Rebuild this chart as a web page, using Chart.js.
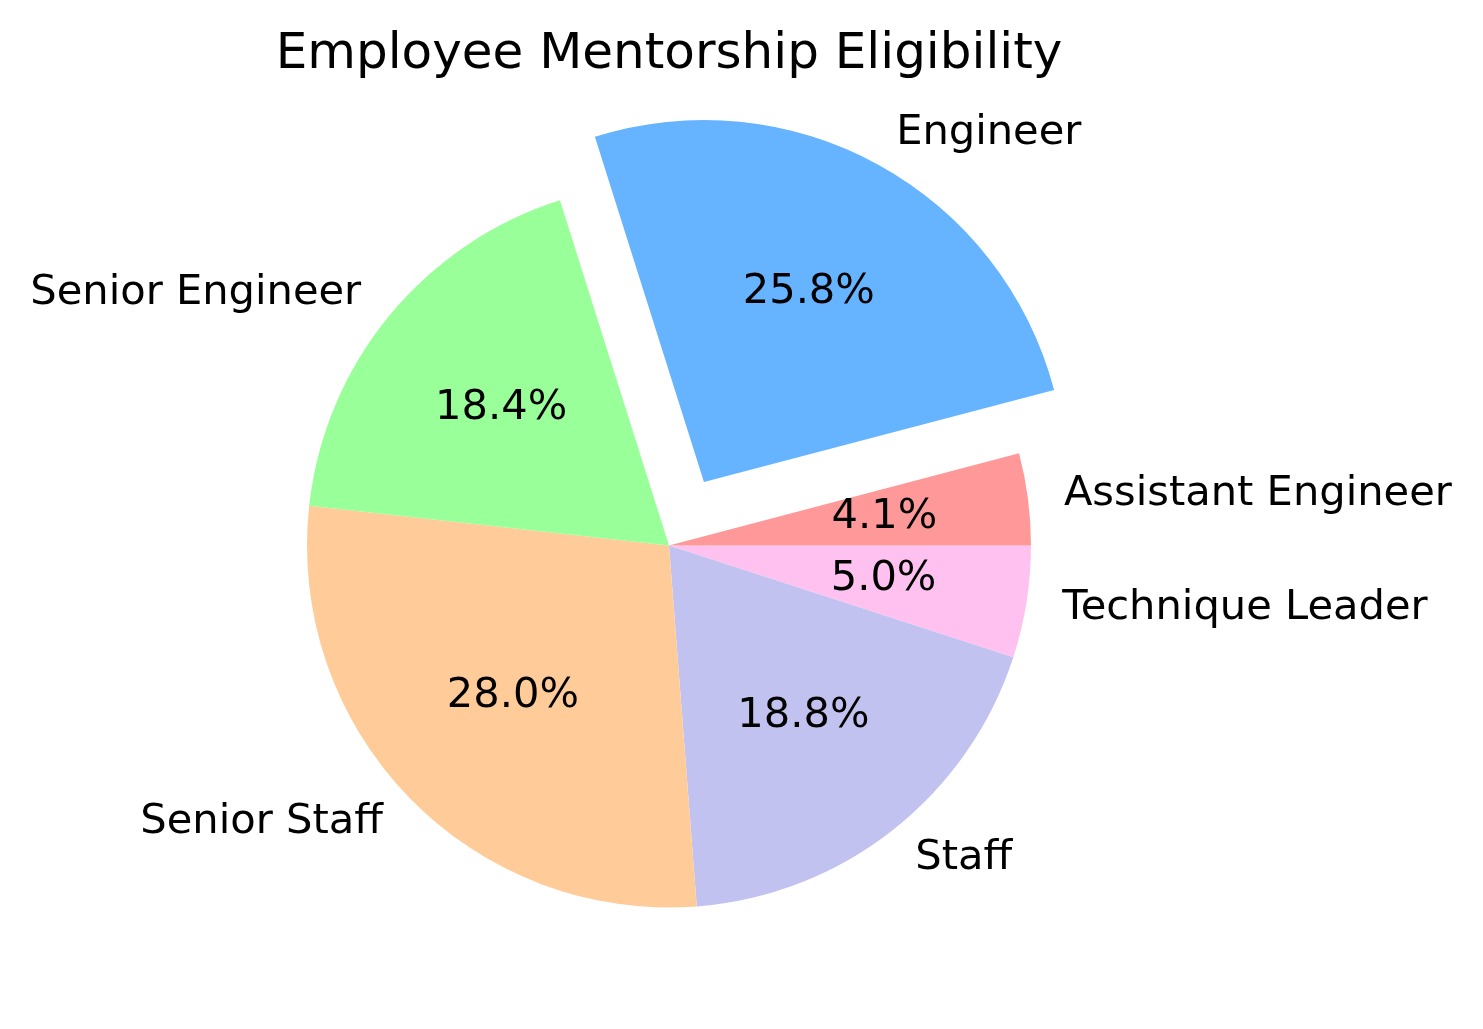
<!DOCTYPE html>
<html>
<head>
<meta charset="utf-8">
<title>Employee Mentorship Eligibility</title>
<script src="https://cdn.jsdelivr.net/npm/chart.js@4/dist/chart.umd.min.js"></script>
<style>
  html, body { margin: 0; padding: 0; background: #fff; }
  canvas { display: block; }
</style>
</head>
<body>
<canvas id="pieChart" width="1483" height="1029"></canvas>
<script>
// data, in matplotlib order (counter-clockwise from 3 o'clock)
const labels = ["Assistant Engineer", "Engineer", "Senior Engineer", "Senior Staff", "Staff", "Technique Leader"];
const values = [4.1, 25.8, 18.4, 28.0, 18.8, 5.0];
const colors = ["#ff9999", "#66b3ff", "#99ff99", "#ffcc99", "#c2c2f0", "#ffc2f0"];
const explode = [0, 0.2, 0, 0, 0, 0];

const RADIUS = 362;
const FONT = "DejaVu Sans, Verdana, sans-serif";

// chart.js goes clockwise, so feed it reversed and start at 3 o'clock
const order = labels.map((_, i) => i).reverse();
const total = values.reduce((a, b) => a + b, 0);

const labelPlugin = {
  id: "pieLabels",
  afterDraw(chart) {
    const ctx = chart.ctx;
    const meta = chart.getDatasetMeta(0);
    ctx.save();
    ctx.fillStyle = "#000";

    // title
    ctx.font = `50px ${FONT}`;
    ctx.textAlign = "center";
    ctx.textBaseline = "alphabetic";
    ctx.fillText("Employee Mentorship Eligibility", 669, 68);

    ctx.font = `41.6px ${FONT}`;
    ctx.textBaseline = "middle";
    meta.data.forEach((arc, j) => {
      const i = order[j];
      const mid = (arc.startAngle + arc.endAngle) / 2;
      const shift = explode[i] * arc.outerRadius;
      const cx = arc.x + Math.cos(mid) * shift;
      const cy = arc.y + Math.sin(mid) * shift;

      const lx = cx + Math.cos(mid) * arc.outerRadius * 1.1;
      const ly = cy + Math.sin(mid) * arc.outerRadius * 1.1;
      ctx.textAlign = Math.cos(mid) > 0 ? "left" : "right";
      ctx.fillText(labels[i], lx, ly);

      const px = cx + Math.cos(mid) * arc.outerRadius * 0.6;
      const py = cy + Math.sin(mid) * arc.outerRadius * 0.6;
      ctx.textAlign = "center";
      ctx.fillText((values[i] / total * 100).toFixed(1) + "%", px, py);
    });
    ctx.restore();
  }
};

new Chart(document.getElementById("pieChart"), {
  type: "pie",
  data: {
    labels: order.map(i => labels[i]),
    datasets: [{
      data: order.map(i => values[i]),
      backgroundColor: order.map(i => colors[i]),
      borderWidth: 0,
      // arc offset is drawn at offset/4 px
      offset: order.map(i => explode[i] * RADIUS * 4)
    }]
  },
  options: {
    responsive: false,
    animation: false,
    rotation: 90,
    radius: RADIUS,
    layout: { padding: { left: 0, right: 145, top: 62, bottom: 0 } },
    plugins: {
      legend: { display: false },
      title: { display: false },
      tooltip: { enabled: false }
    },
    events: []
  },
  plugins: [labelPlugin]
});
</script>
</body>
</html>
